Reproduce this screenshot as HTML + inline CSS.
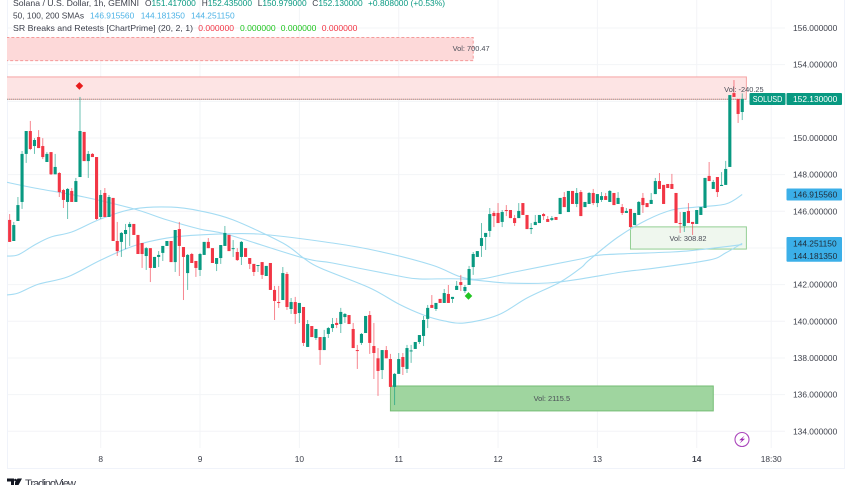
<!DOCTYPE html>
<html lang="en">
<head>
<meta charset="utf-8">
<title>SOLUSD Chart</title>
<style>
html,body{margin:0;padding:0;background:#fff;width:852px;height:485px;overflow:hidden}
svg{display:block;font-family:"Liberation Sans",sans-serif}
</style>
</head>
<body>
<svg id="chart" xmlns="http://www.w3.org/2000/svg" width="852" height="485" viewBox="0 0 852 485">
<defs><clipPath id="plotClip"><rect x="7" y="0" width="778" height="448"/></clipPath></defs>
<rect x="0" y="0" width="852" height="485" fill="#ffffff"/>
<g id="grid"></g>
<path d="M7.5 0V468.5H844.5V0" fill="none" stroke="#f0f3fa" stroke-width="1"/>
<g id="zones" clip-path="url(#plotClip)"></g>
<g id="smas" clip-path="url(#plotClip)"></g>
<g id="candles" clip-path="url(#plotClip)"></g>
<g id="markers"></g>
<g id="zoneLabels" font-size="7.4" fill="#4a4d57" text-anchor="middle"></g>
<g id="yAxis" font-size="8.4" fill="#3c3f4a"></g>
<g id="xAxis" font-size="8.4" fill="#3c3f4a" text-anchor="middle"></g>

<g font-size="8.4">
  <text x="13" y="6" fill="#3c3f4a" textLength="126" lengthAdjust="spacingAndGlyphs">Solana / U.S. Dollar, 1h, GEMINI</text>
  <text x="145" y="6" fill="#3c3f4a">O<tspan fill="#089981">151.417000</tspan></text>
  <text x="201.7" y="6" fill="#3c3f4a">H<tspan fill="#089981">152.435000</tspan></text>
  <text x="257.7" y="6" fill="#3c3f4a">L<tspan fill="#089981">150.979000</tspan></text>
  <text x="312.3" y="6" fill="#3c3f4a">C<tspan fill="#089981">152.130000</tspan></text>
  <text x="368" y="6" fill="#089981" textLength="77">+0.808000 (+0.53%)</text>
  <text x="13" y="18.5" fill="#3c3f4a" textLength="71" lengthAdjust="spacingAndGlyphs">50, 100, 200 SMAs</text>
  <text x="90" y="18.5" fill="#4db3e6">146.915560</text>
  <text x="140.7" y="18.5" fill="#4db3e6">144.181350</text>
  <text x="191" y="18.5" fill="#4db3e6">144.251150</text>
  <text x="13" y="31" fill="#3c3f4a" textLength="180" lengthAdjust="spacingAndGlyphs">SR Breaks and Retests [ChartPrime] (20, 2, 1)</text>
  <text x="198.3" y="31" fill="#f23645" font-size="8.55">0.000000</text>
  <text x="240" y="31" fill="#22c522" font-size="8.55">0.000000</text>
  <text x="280.7" y="31" fill="#22c522" font-size="8.55">0.000000</text>
  <text x="321.7" y="31" fill="#f23645" font-size="8.55">0.000000</text>
</g>

<g>
  <rect x="749.5" y="93" width="36" height="12" rx="1" fill="#089981"/>
  <rect x="786.5" y="93" width="55.5" height="12" rx="1" fill="#089981"/>
  <text x="752.7" y="102" font-size="8.4" fill="#ffffff" textLength="29.6" lengthAdjust="spacingAndGlyphs">SOLUSD</text>
  <text x="793" y="102" font-size="8.4" fill="#ffffff">152.130000</text>
</g>
<g>
  <rect x="786.5" y="188.5" width="55.5" height="12" rx="1" fill="#3bafe8"/>
  <text x="793" y="197.5" font-size="8.4" fill="#1f2a36">146.915560</text>
  <rect x="786.5" y="237" width="55.5" height="24.8" rx="1" fill="#3bafe8"/>
  <text x="793" y="246.5" font-size="8.4" fill="#1f2a36">144.251150</text>
  <text x="793" y="259" font-size="8.4" fill="#1f2a36">144.181350</text>
</g>

<g>
  <circle cx="742" cy="439.5" r="7" fill="#ffffff" stroke="#ab47bc" stroke-width="1.1"/>
  <path d="M744.6 435.6L739.2 440.3H741.9L739.6 443.5L745 438.7H742.3Z" fill="#9c27b0"/>
</g>

<g>
  <path d="M7 478.5H14V485H11V481.5H7ZM15 482.5L17.5 478.5H22L18.5 485H15Z" fill="#131722"/>
  <circle cx="15.4" cy="480" r="1.3" fill="#131722"/>
  <text x="25" y="487" font-size="11.2" fill="#3c3f4a" textLength="51">TradingView</text>
</g>
</svg>

<script>
const opens=[145.53,144.38,145.47,146.51,149.13,150.38,149.56,150.05,149.56,148.69,149.23,148.02,148.09,147.16,146.51,147.11,146.51,147.87,150.33,148.74,149.13,148.96,145.69,147.0,145.69,146.73,144.38,144.33,144.76,145.14,145.31,144.71,144.27,143.56,143.99,142.91,143.51,143.73,144.11,144.38,143.23,145.03,144.05,142.63,143.67,143.29,142.8,143.62,144.33,143.99,143.13,143.45,144.11,144.71,143.94,143.78,143.51,143.99,143.45,143.13,143.02,143.23,142.47,143.18,141.71,141.05,141.16,142.58,140.67,141.05,140.45,140.78,138.6,139.74,139.09,139.14,138.43,139.31,139.63,139.91,139.85,140.23,140.34,139.58,138.43,138.82,139.36,140.34,138.65,137.98,137.34,138.43,137.94,136.42,137.13,138.05,137.4,138.38,138.49,138.87,139.2,140.13,140.89,140.67,141.22,141.0,141.49,141.22,141.71,142.14,141.65,141.98,142.96,143.51,144.11,144.6,144.93,145.91,145.91,145.42,146.07,146.07,145.63,145.63,146.45,145.8,145.03,145.25,145.36,145.85,145.58,145.53,145.69,145.85,146.78,145.96,147.11,146.4,147.05,146.23,146.4,147.0,146.45,146.62,146.83,146.51,147.0,146.4,146.23,145.91,146.13,145.25,145.8,146.73,146.45,146.4,146.94,147.65,147.44,147.49,147.49,147.0,145.36,145.2,146.02,145.42,145.31,145.8,146.18,147.93,147.22,147.87,147.38,147.44,148.42,152.45,152.13,151.417];
const highs=[145.85,145.42,146.78,149.29,150.38,150.93,149.99,150.43,149.99,149.23,149.23,149.13,148.14,147.22,147.27,147.27,147.82,152.24,150.33,149.29,149.18,148.96,147.16,147.27,146.89,146.73,145.42,144.87,145.31,145.42,145.31,144.71,144.27,144.05,143.99,143.51,143.83,144.11,144.38,144.38,144.98,145.42,144.05,143.67,143.73,143.29,143.73,144.33,144.54,143.99,143.45,144.16,145.2,144.71,144.43,143.99,144.38,143.99,143.45,143.13,143.07,143.23,143.02,143.18,141.93,141.93,142.96,142.69,141.27,141.33,141.0,140.78,140.07,139.74,139.58,139.14,139.53,139.69,140.18,140.18,140.73,140.45,140.34,139.91,138.71,139.36,140.29,140.56,139.91,138.54,138.43,138.65,138.22,137.18,138.27,138.27,138.71,138.71,138.87,139.25,140.29,140.89,141.43,141.0,141.22,141.76,141.98,141.33,142.2,142.53,141.98,143.02,143.78,143.83,145.36,144.82,146.18,146.02,146.45,146.07,146.34,146.07,145.8,146.45,146.45,145.8,145.36,145.8,145.8,145.91,145.74,145.74,145.69,146.73,147.05,147.11,147.11,147.27,147.16,146.51,147.05,147.22,146.94,147.05,147.0,147.16,147.0,147.05,146.4,146.18,146.13,145.91,146.56,147.0,146.45,147.0,147.82,148.09,147.44,147.49,148.04,147.0,145.96,145.96,146.45,145.42,146.07,146.23,147.82,148.69,147.71,147.87,148.14,148.75,152.34,153.16,152.13,152.435];
const lows=[144.33,144.38,145.47,146.13,148.64,149.34,149.13,149.45,148.85,148.69,147.98,148.02,146.78,146.18,145.58,146.51,146.51,147.87,148.74,147.82,148.96,145.53,145.58,145.69,145.69,144.38,143.56,143.51,143.94,144.11,144.71,143.67,142.91,142.8,142.14,142.91,142.96,143.29,144.11,143.23,142.69,142.47,141.16,141.71,143.18,142.42,142.47,143.62,143.99,143.18,142.74,143.13,144.11,143.83,143.51,143.29,143.07,143.51,142.85,142.47,142.69,142.31,142.47,141.71,140.07,140.73,141.16,140.62,140.4,139.85,139.91,138.65,138.6,139.14,138.98,137.62,138.43,139.09,139.42,139.63,139.36,139.91,139.85,138.54,137.4,138.71,139.36,138.22,136.85,135.93,136.85,137.98,136.42,135.43,137.13,137.07,137.18,137.73,138.49,138.76,138.65,139.63,140.73,140.56,141.0,141.0,141.0,141.0,141.71,141.65,141.54,141.98,142.53,143.51,143.51,143.89,144.6,145.14,145.36,145.14,145.74,145.63,145.2,145.63,145.8,145.03,144.76,145.25,145.36,145.53,145.42,145.47,145.53,145.85,146.23,145.96,146.4,146.23,145.74,146.23,146.4,146.34,146.23,146.51,146.62,146.51,146.34,146.4,145.8,145.91,145.14,145.25,145.8,145.91,146.23,146.4,146.94,147.22,146.4,147.27,147.22,145.36,144.82,144.87,145.36,144.71,145.31,145.8,146.18,147.65,147.22,146.78,147.38,147.44,148.42,152.24,150.82,150.979];
const closes=[144.33,145.25,146.34,149.13,150.38,149.40,149.89,149.45,148.96,149.13,148.02,148.42,147.05,146.62,147.22,146.51,147.65,150.38,148.74,149.13,148.96,145.58,146.89,145.69,146.78,144.38,143.83,144.82,144.98,145.31,144.71,143.67,143.67,143.99,142.91,143.51,143.62,144.11,144.38,143.23,144.98,144.11,143.51,143.62,143.18,142.91,143.67,144.33,143.99,143.18,143.45,144.16,144.82,143.83,143.99,143.34,144.33,143.51,143.13,142.69,143.07,142.53,143.02,141.71,141.11,141.0,142.63,140.78,141.05,140.4,141.0,138.82,139.85,139.14,139.58,138.43,139.14,139.63,139.85,139.8,140.51,140.4,139.85,138.54,138.38,139.31,140.29,138.82,138.27,137.29,138.43,137.98,136.42,137.13,137.94,137.51,138.54,138.41,138.87,139.25,140.07,140.73,140.73,141.0,141.0,141.54,141.0,141.33,141.93,141.98,141.87,142.85,143.67,143.83,144.54,144.82,145.85,145.74,145.36,145.96,146.02,145.63,145.36,146.02,145.8,145.03,145.09,145.42,145.8,145.74,145.42,145.63,145.53,146.73,146.23,147.11,146.4,147.0,145.74,146.51,147.0,146.45,146.94,146.83,146.62,147.11,146.34,146.73,145.91,146.02,145.14,145.91,146.51,146.34,146.23,146.62,147.65,147.22,146.4,147.27,147.22,145.36,145.31,145.96,145.36,145.31,146.07,146.23,147.82,147.65,147.6,147.05,147.44,148.31,152.34,152.24,151.31,152.13];

const sma50Bars=[-1,2,6,10,15,22,30,39,46,54,66,71,75,87,94,100,105,110,118,125,133,138,140,147,154,160,166,173,177];
const sma50Values=[143.56,143.62,144.16,144.6,144.87,145.58,146.13,146.23,146.02,145.53,144.27,143.45,142.91,141.82,140.94,140.34,140.02,139.91,140.34,141.27,142.14,142.91,143.34,144.6,145.53,146.07,146.23,146.4,146.9156];
const sma100Bars=[-1,2,7,14,22,30,38,46,60,78,89,102,109,114,122,138,143,160,166,177];
const sma100Values=[141.43,141.54,142.03,142.42,143.34,144.11,144.54,144.71,144.76,144.27,143.83,143.07,142.42,142.31,142.69,143.4,143.62,143.78,143.89,144.18135];
const sma200Bars=[-1,6,18,30,38,46,53,71,78,94,99,109,120,130,138,148,156,169,173,177];
const sma200Values=[147.6,147.27,146.78,146.13,145.53,145.03,144.71,143.45,143.18,142.47,142.31,142.31,142.09,142.09,142.31,142.69,142.9,143.34,143.73,144.25115];

const priceTicks=[156,154,152,150,148,146,144,142,140,138,136,134];
const shownPriceLabels=[156,154,150,148,146,142,140,138,136,134];
const timeBars=[22,46,70,94,118,142,166,184];
const timeLabels=['8','9','10','11','12','13','14','18:30'];

const zoneTops=[155.48,153.33,136.47,145.15];
const zoneBottoms=[154.22,152.11,135.11,143.94];
const zoneStarts=[-2,-2,92,150];
const zoneEnds=[112,178,170,178];
const zoneFills=['#fdd9d9','#fde4e4','#9fd59f','#eff7ee'];
const zoneStrokes=['#f59a9a','#f5a3a3','#74bd74','#93cf93'];
const zoneDashes=['3 2','','',''];
const zoneNames=['resistance-zone-upper','resistance-zone-lower','support-zone-main','support-zone-retest'];
const zoneVolumes=['Vol: 700.47','Vol: -240.25','Vol: 2115.5','Vol: 308.82'];
const zoneLabelBars=[111.5,177.4,131,163.9];
const zoneLabelPrices=[154.88,152.66,135.8,144.53];

const markerBars=[17,111];
const markerPrices=[152.84,141.38];
const markerColors=['#e81c1c','#22c522'];
const markerNames=['break-down-marker','break-up-marker'];

const SVGNS='http://www.w3.org/2000/svg';
function xScale(bar){return 100.7+(bar-22)*4.139;}
function yScale(price){return 28+(156-price)*18.33;}
function make(tag,attrs,parent){
  const el=document.createElementNS(SVGNS,tag);
  for(const k in attrs){el.setAttribute(k,attrs[k]);}
  parent.appendChild(el);
  return el;
}

const grid=document.getElementById('grid');
priceTicks.forEach(function(p){
  const line=make('line',{x1:7,x2:785,y1:yScale(p),y2:yScale(p),stroke:'#f3f4f7','stroke-width':1},grid);
  
  
});
timeBars.forEach(function(b){
  const line=make('line',{x1:xScale(b),x2:xScale(b),y1:0,y2:448,stroke:'#f3f4f7','stroke-width':1},grid);
  
  
});

const zones=document.getElementById('zones');
zoneTops.forEach(function(top,i){
  const x=xScale(zoneStarts[i]);
  const w=xScale(zoneEnds[i])-x;
  const y=yScale(top);
  const h=yScale(zoneBottoms[i])-y;
  const rect=make('rect',{x:x,y:y,width:w,height:h,fill:zoneFills[i],stroke:zoneStrokes[i],'stroke-width':1},zones);
  if(zoneDashes[i]){rect.setAttribute('stroke-dasharray',zoneDashes[i]);}
  
  
});
const dotted=make('line',{x1:7,x2:xScale(zoneEnds[1]),y1:yScale(zoneBottoms[1]),y2:yScale(zoneBottoms[1]),stroke:'#8fa8a0','stroke-width':1,'stroke-dasharray':'1 1'},zones);



const smas=document.getElementById('smas');
function smoothPath(pts){
  let d='M'+pts[0][0].toFixed(1)+' '+pts[0][1].toFixed(1);
  for(let i=0;i<pts.length-1;i++){
    const p0=pts[Math.max(i-1,0)];
    const p1=pts[i];
    const p2=pts[i+1];
    const p3=pts[Math.min(i+2,pts.length-1)];
    const c1x=p1[0]+(p2[0]-p0[0])/6;
    const c1y=p1[1]+(p2[1]-p0[1])/6;
    const c2x=p2[0]-(p3[0]-p1[0])/6;
    const c2y=p2[1]-(p3[1]-p1[1])/6;
    d+='C'+c1x.toFixed(1)+' '+c1y.toFixed(1)+' '+c2x.toFixed(1)+' '+c2y.toFixed(1)+' '+p2[0].toFixed(1)+' '+p2[1].toFixed(1);
  }
  return d;
}
function drawSma(bars,values,name){
  const pts=bars.map(function(b,i){return [xScale(b),yScale(values[i])];});
  const line=make('path',{d:smoothPath(pts),fill:'none',stroke:'#a5dcf3','stroke-width':1.1},smas);
  
  
}
drawSma(sma50Bars,sma50Values,'sma-50-line');
drawSma(sma100Bars,sma100Values,'sma-100-line');
drawSma(sma200Bars,sma200Values,'sma-200-line');

const candles=document.getElementById('candles');
opens.forEach(function(o,i){
  const c=closes[i];
  const color=c>=o?'#089981':'#f23645';
  const x=xScale(i);
  const wick=make('line',{x1:x,x2:x,y1:yScale(highs[i]),y2:yScale(lows[i]),stroke:color,'stroke-width':1,'stroke-opacity':0.6},candles);
  
  
  const top=yScale(Math.max(o,c));
  const h=Math.max(yScale(Math.min(o,c))-top,1);
  const body=make('rect',{x:x-1.55,y:top,width:3.1,height:h,fill:color},candles);
  
  
});

const markers=document.getElementById('markers');
markerBars.forEach(function(b,i){
  const cx=xScale(b)-0.6;
  const cy=yScale(markerPrices[i]);
  const r=3.8;
  const d=make('polygon',{points:(cx-r)+','+cy+' '+cx+','+(cy-r)+' '+(cx+r)+','+cy+' '+cx+','+(cy+r),fill:markerColors[i]},markers);
  
  
});

const zoneLabels=document.getElementById('zoneLabels');
zoneVolumes.forEach(function(txt,i){
  const t=make('text',{x:xScale(zoneLabelBars[i]),y:yScale(zoneLabelPrices[i])+2.6},zoneLabels);
  t.textContent=txt;
  
  
});

const yAxis=document.getElementById('yAxis');
shownPriceLabels.forEach(function(p){
  const t=make('text',{x:793,y:yScale(p)+3},yAxis);
  t.textContent=p.toFixed(6);
  
  
});

const xAxis=document.getElementById('xAxis');
timeBars.forEach(function(b,i){
  const t=make('text',{x:xScale(b),y:462},xAxis);
  if(timeLabels[i]==='14'){t.setAttribute('font-weight','bold');}
  t.textContent=timeLabels[i];
  
  
});
</script>
</body>
</html>
